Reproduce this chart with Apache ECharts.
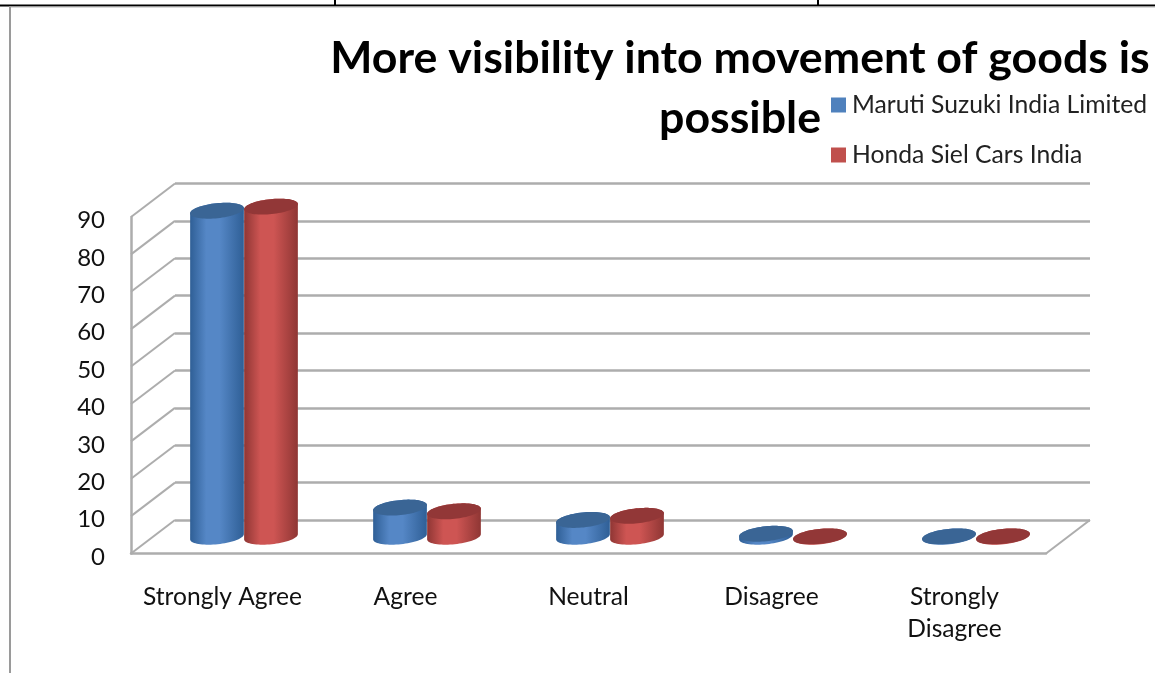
<!DOCTYPE html>
<html><head><meta charset="utf-8">
<style>html,body{margin:0;padding:0;background:#fff}#c{width:1155px;height:673px}</style>
<script src="https://cdn.jsdelivr.net/npm/echarts@6/dist/echarts.min.js"></script>
</head><body><div id="c"></div>
<script>
const categories = ['Strongly Agree','Agree','Neutral','Disagree','Strongly\nDisagree'];
const maruti = [87.2, 7.8, 4.5, 0.8, 0.1];
const honda = [88.3, 6.8, 5.6, 0.1, 0.1];
const yTicks = [0,10,20,30,40,50,60,70,80,90];
const titleLines = 'More visibility into movement of goods is\npossible';
const FONT = 'Lato';
const GRID = '#adadad';
const DX = 44, DY = -33.5;          // depth of the 3D box
const RX = 27, RY = 7.5, TILT = 6*Math.PI/180;

const chart = echarts.init(document.getElementById('c'), null, {renderer:'canvas'});

function ell(cx, cy, t){
  const a = RX*Math.cos(t), b = RY*Math.sin(t);
  return [cx + a*Math.cos(TILT) + b*Math.sin(TILT), cy - a*Math.sin(TILT) + b*Math.cos(TILT)];
}
function cylinder(side, edge, mid, cap){
  return function(params, api){
    const i = api.value(0), v = api.value(1);
    const base = api.coord([i, 0]), top = api.coord([i, v]);
    const cx = base[0] + DX/2 + side*RX - 0.5;
    const by = base[1] + DY/2, ty = top[1] + DY/2;
    const pts = [];
    for(let k=0;k<=36;k++){ pts.push(ell(cx, by, k/36*Math.PI)); }
    for(let k=36;k>=0;k--){ pts.push(ell(cx, ty, -k/36*Math.PI + 0)); }
    const capPts = [];
    for(let k=0;k<72;k++){ capPts.push(ell(cx, ty, k/72*2*Math.PI)); }
    return {type:'group', children:[
      {type:'polygon', shape:{points:pts}, style:{fill:new echarts.graphic.LinearGradient(0,0,1,0,[
        {offset:0,color:edge},{offset:0.3,color:mid},{offset:0.55,color:mid},{offset:1,color:edge}])}},
      {type:'polygon', shape:{points:capPts}, style:{fill:cap}}
    ]};
  };
}
function obliques(params, api){
  const cs = params.coordSys, v = api.value(0), y = api.coord([0, v])[1], x = cs.x;
  const kids = [{type:'line', shape:{x1:x,y1:y,x2:x+DX,y2:y+DY}, style:{stroke:GRID,lineWidth:2}}];
  if(v === 0){ kids.push({type:'line', shape:{x1:x+cs.width,y1:y,x2:x+cs.width+DX,y2:y+DY}, style:{stroke:GRID,lineWidth:2}}); }
  return {type:'group', children:kids};
}
const frame = [
  {type:'line', shape:{x1:0,y1:5.5,x2:1155,y2:5.5}, style:{stroke:'#000',lineWidth:2}},
  {type:'line', shape:{x1:335,y1:0,x2:335,y2:6}, style:{stroke:'#000',lineWidth:2}},
  {type:'line', shape:{x1:818,y1:0,x2:818,y2:6}, style:{stroke:'#000',lineWidth:2}},
  {type:'line', shape:{x1:10,y1:7,x2:1155,y2:7}, style:{stroke:'#b5b5b5',lineWidth:1}},
  {type:'line', shape:{x1:10,y1:6,x2:10,y2:673}, style:{stroke:'#9a9a9a',lineWidth:2}}
];
chart.setOption({
  animation:false,
  backgroundColor:'#fff',
  textStyle:{fontFamily:FONT},
  graphic:frame,
  title:{text:titleLines,left:735,top:24,textAlign:'center',
    textStyle:{fontFamily:FONT,fontWeight:'bold',fontSize:44.7,lineHeight:60,color:'#000'}},
  legend:{orient:'vertical',left:831,top:92.5,padding:0,icon:'rect',itemWidth:15,itemHeight:15,itemGap:25,
    data:['Maruti Suzuki India Limited','Honda Siel Cars India'],
    textStyle:{fontFamily:FONT,fontSize:24.7,color:'#222',padding:[0,0,0,1]}},
  grid:[
    {left:131,top:217,width:915,height:336.5},
    {left:175,top:183.5,width:915,height:336.5}
  ],
  xAxis:[
    {type:'category',gridIndex:0,data:categories,axisTick:{show:false},
     axisLine:{lineStyle:{color:GRID,width:2.5}},
     axisLabel:{fontFamily:FONT,fontSize:24.6,color:'#111',margin:28,lineHeight:32,interval:0}},
    {type:'category',gridIndex:1,data:categories,show:false}
  ],
  yAxis:[
    {type:'value',gridIndex:0,min:0,max:90,interval:10,splitLine:{show:false},
     axisLine:{show:true,lineStyle:{color:GRID,width:2.5}},axisTick:{show:false},
     axisLabel:{fontFamily:FONT,fontSize:24,color:'#111',margin:26,verticalAlign:'top',lineHeight:7}},
    {type:'value',gridIndex:1,min:0,max:90,interval:10,axisLine:{show:false},axisTick:{show:false},
     axisLabel:{show:false},splitLine:{show:true,lineStyle:{color:GRID,width:2.5}}}
  ],
  series:[
    {type:'custom',name:'box',silent:true,xAxisIndex:0,yAxisIndex:0,clip:false,renderItem:obliques,
     data:yTicks.map(t=>[t]),encode:{y:0}},
    {type:'custom',name:'Maruti Suzuki India Limited',xAxisIndex:0,yAxisIndex:0,clip:false,z:3,
     itemStyle:{color:'#4f81bd'},renderItem:cylinder(-1,'#2f5f96','#5587c6','#3a6595'),
     data:maruti.map((v,i)=>[i,v]),encode:{x:0,y:1}},
    {type:'custom',name:'Honda Siel Cars India',xAxisIndex:0,yAxisIndex:0,clip:false,z:4,
     itemStyle:{color:'#c0504d'},renderItem:cylinder(1,'#8f3634','#ce5553','#923737'),
     data:honda.map((v,i)=>[i,v]),encode:{x:0,y:1}}
  ]
});
</script></body></html>
